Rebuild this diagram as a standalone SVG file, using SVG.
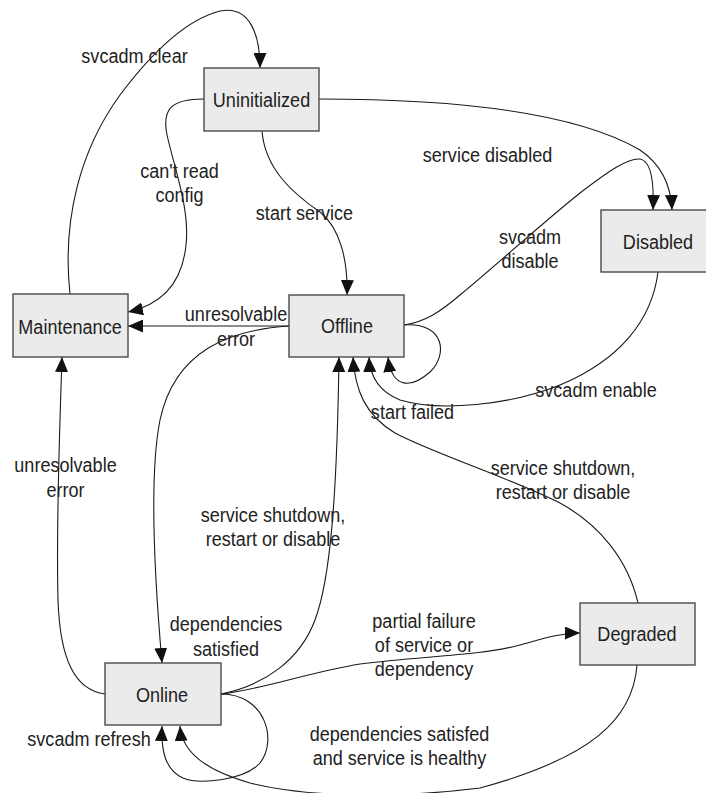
<svg xmlns="http://www.w3.org/2000/svg" width="706" height="793" viewBox="0 0 706 793">
  <style>
    .box { fill: #ebebeb; stroke: #4a4a4a; stroke-width: 1.4; }
    .lbl { font-family: "Liberation Sans", Arial, sans-serif; font-size: 21px; fill: #222; text-anchor: middle; }
    .edge { fill: none; stroke: #1a1a1a; stroke-width: 1.1; marker-end: url(#arrow); }
  </style>
  <defs>
    <marker id="arrow" markerUnits="userSpaceOnUse" markerWidth="15" markerHeight="13" refX="15" refY="6.5" orient="auto">
      <path d="M0,0 L15,6.5 L0,13 z" fill="#111"/>
    </marker>
  </defs>
  <rect width="706" height="793" fill="#ffffff"/>

  <g id="connectors">
    <!-- svcadm clear: Maintenance -> Uninitialized -->
    <path class="edge" d="M70,294 C62,220 80,150 120,95 C150,55 185,20 220,11 C250,5 260,35 260,68"/>
    <!-- can't read config: Uninitialized -> Maintenance -->
    <path class="edge" d="M204,99 C170,99 162,110 167,135 C175,170 190,210 186,245 C182,285 160,305 128,312"/>
    <!-- service disabled: Uninitialized -> Disabled -->
    <path class="edge" d="M319,99 C470,99 580,115 640,150 C662,165 671,185 672,210"/>
    <!-- start service: Uninitialized -> Offline -->
    <path class="edge" d="M262,131 C265,170 295,195 320,212 C340,228 348,260 347,295"/>
    <!-- svcadm disable: Offline -> Disabled -->
    <path class="edge" d="M404,325 C425,322 440,312 460,295 C500,262 540,225 580,193 C610,170 628,158 640,159 C652,161 654,185 653,210"/>
    <!-- unresolvable error: Offline -> Maintenance -->
    <path class="edge" d="M289,326 L128,326"/>
    <!-- start failed: Offline self loop -->
    <path class="edge" d="M404,325 C445,322 448,355 430,372 C412,388 392,390 388,357"/>
    <!-- svcadm enable: Disabled -> Offline -->
    <path class="edge" d="M658,272 C652,320 620,360 560,385 C510,405 440,412 400,400 C380,392 370,378 369,357"/>
    <!-- service shutdown: Degraded -> Offline -->
    <path class="edge" d="M638,603 C628,560 600,525 560,503 C510,478 430,452 395,433 C365,415 355,390 353,357"/>
    <!-- dependencies satisfied: Offline -> Online -->
    <path class="edge" d="M289,326 C230,330 175,350 160,420 C150,470 153,560 162,663"/>
    <!-- unresolvable error: Online -> Maintenance -->
    <path class="edge" d="M105,694 C75,690 60,660 58,600 C56,520 60,420 62,357"/>
    <!-- service shutdown: Online -> Offline -->
    <path class="edge" d="M221,694 C265,685 300,660 315,620 C330,580 337,500 339,357"/>
    <!-- partial failure: Online -> Degraded -->
    <path class="edge" d="M221,694 C260,690 310,672 360,664 C420,656 480,656 520,645 C545,638 560,633 580,633"/>
    <!-- svcadm refresh: Online self loop -->
    <path class="edge" d="M221,694 C265,694 278,740 260,763 C245,780 200,785 183,778 C165,770 161,750 162,726"/>
    <!-- dependencies satisfed and healthy: Degraded -> Online -->
    <path class="edge" d="M637,665 C633,720 590,758 480,788 C400,798 310,798 250,783 C205,770 182,752 180,726"/>
  </g>

  <g id="edge-labels">
    <text class="lbl" transform="translate(134.5,63) scale(0.86,1)">svcadm clear</text>
    <text class="lbl" transform="translate(179.5,178) scale(0.86,1)"><tspan x="0">can't read</tspan><tspan x="0" dy="24">config</tspan></text>
    <text class="lbl" transform="translate(304.5,220) scale(0.86,1)">start service</text>
    <text class="lbl" transform="translate(487.5,162) scale(0.86,1)">service disabled</text>
    <text class="lbl" transform="translate(530,244) scale(0.86,1)"><tspan x="0">svcadm</tspan><tspan x="0" dy="24">disable</tspan></text>
    <text class="lbl" transform="translate(236,321) scale(0.86,1)"><tspan x="0">unresolvable</tspan><tspan x="0" dy="25">error</tspan></text>
    <text class="lbl" transform="translate(596,397) scale(0.86,1)">svcadm enable</text>
    <text class="lbl" transform="translate(412.5,419) scale(0.86,1)">start failed</text>
    <text class="lbl" transform="translate(563,475) scale(0.86,1)"><tspan x="0">service shutdown,</tspan><tspan x="0" dy="24">restart or disable</tspan></text>
    <text class="lbl" transform="translate(273,522) scale(0.86,1)"><tspan x="0">service shutdown,</tspan><tspan x="0" dy="24">restart or disable</tspan></text>
    <text class="lbl" transform="translate(65.5,472) scale(0.86,1)"><tspan x="0">unresolvable</tspan><tspan x="0" dy="25">error</tspan></text>
    <text class="lbl" transform="translate(226,631) scale(0.86,1)"><tspan x="0">dependencies</tspan><tspan x="0" dy="25">satisfied</tspan></text>
    <text class="lbl" transform="translate(424,628) scale(0.86,1)"><tspan x="0">partial failure</tspan><tspan x="0" dy="24">of service or</tspan><tspan x="0" dy="24">dependency</tspan></text>
    <text class="lbl" transform="translate(399.5,741) scale(0.86,1)"><tspan x="0">dependencies satisfed</tspan><tspan x="0" dy="24">and service is healthy</tspan></text>
    <text class="lbl" transform="translate(89,746) scale(0.86,1)">svcadm refresh</text>
  </g>

  <g id="node-uninitialized">
    <rect class="box" x="204" y="68" width="115" height="63"/>
    <text class="lbl" transform="translate(261.5,107) scale(0.86,1)">Uninitialized</text>
  </g>
  <g id="node-disabled">
    <rect class="box" x="601" y="210" width="115" height="62"/>
    <text class="lbl" transform="translate(658,249) scale(0.86,1)">Disabled</text>
  </g>
  <g id="node-maintenance">
    <rect class="box" x="13" y="294" width="115" height="63"/>
    <text class="lbl" transform="translate(70,334) scale(0.86,1)">Maintenance</text>
  </g>
  <g id="node-offline">
    <rect class="box" x="289" y="295" width="115" height="62"/>
    <text class="lbl" transform="translate(347,333) scale(0.86,1)">Offline</text>
  </g>
  <g id="node-online">
    <rect class="box" x="105" y="663" width="116" height="62"/>
    <text class="lbl" transform="translate(162,702) scale(0.86,1)">Online</text>
  </g>
  <g id="node-degraded">
    <rect class="box" x="580" y="603" width="115" height="62"/>
    <text class="lbl" transform="translate(637,641) scale(0.86,1)">Degraded</text>
  </g>
</svg>
